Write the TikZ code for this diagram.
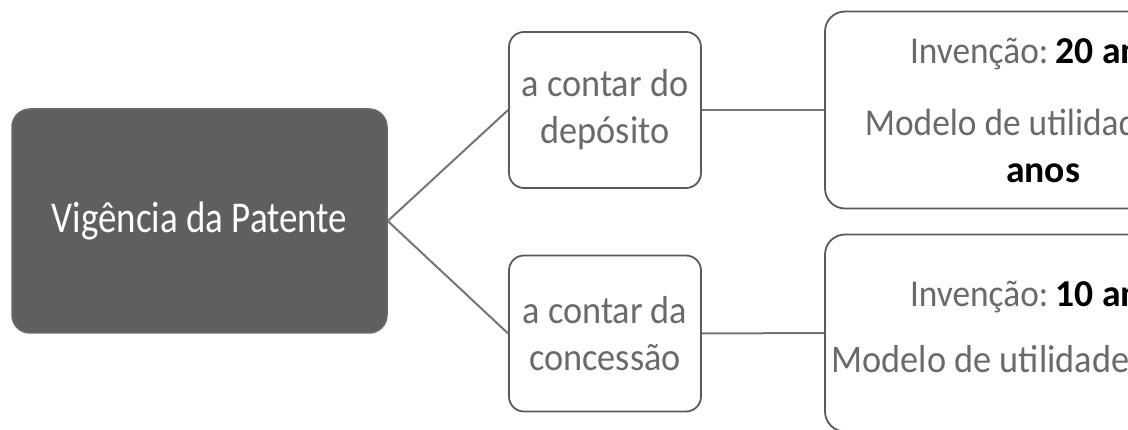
\documentclass[tikz,border=0pt]{standalone}
\usepackage{fontspec}
\setmainfont{Carlito}[FakeStretch=0.93]
\newfontfamily\rootfont{Carlito}[FakeStretch=0.84]
\newfontfamily\boldfam{Carlito}[FakeStretch=0.99]
\newcommand\strongpart[1]{\textcolor{black}{\boldfam\bfseries #1}}
\definecolor{rootfill}{HTML}{5F5F5F}
\definecolor{rootedge}{HTML}{6A6A6A}
\definecolor{boxedge}{HTML}{5A5A5A}
\definecolor{txtgray}{HTML}{6A6A6A}
\definecolor{linkgray}{HTML}{757575}
\tikzset{
  rootbox/.style={draw=rootedge, line width=1.5pt, fill=rootfill, rounded corners=18pt,
    text=white, minimum width=375pt, minimum height=224pt, align=center,
    font=\rootfont\fontsize{44}{52}\selectfont},
  midbox/.style={draw=boxedge, line width=1.8pt, fill=white, rounded corners=15pt,
    text=txtgray, minimum width=192pt, minimum height=156pt, align=center,
    font=\fontsize{39}{47}\selectfont},
  infobox/.style={draw=boxedge, line width=1.8pt, fill=white, rounded corners=20pt,
    text=txtgray, minimum width=436pt, minimum height=197pt, align=center,
    font=\fontsize{38}{47}\selectfont},
  link/.style={draw=linkgray, line width=2pt}
}
\begin{document}
\begin{tikzpicture}[x=1pt, y=-1pt]
\useasboundingbox (0,0) rectangle (1128,430);
\clip (0,0) rectangle (1128,430);
\node[rootbox] (root) at (199.5,221) {Vigência da Patente};
\node[midbox] (dep) at (605,110) {a contar do\\depósito};
\node[midbox] (conc) at (605,333.5) {a contar da\\concessão};
\node[infobox] (r1) at (1043,110) {Invenção:\hspace{7pt}\strongpart{20 anos}\\[25pt]Modelo de utilidade: \strongpart{15}\rule{8pt}{0pt}\\\strongpart{anos}};
\node[infobox] (r2) at (1043,333) {Invenção:\hspace{7pt}\strongpart{10 anos}\\[19pt]{\fontsize{39}{47}\selectfont Modelo de utilidade: \strongpart{7 anos}}\rule[-12pt]{0pt}{12pt}};
\draw[link] (root.east) -- (dep.west);
\draw[link] (root.east) -- (conc.west);
\draw[link] (dep.east) -- (r1.west);
\draw[link] (conc.east) -- (r2.west);
\end{tikzpicture}
\end{document}
